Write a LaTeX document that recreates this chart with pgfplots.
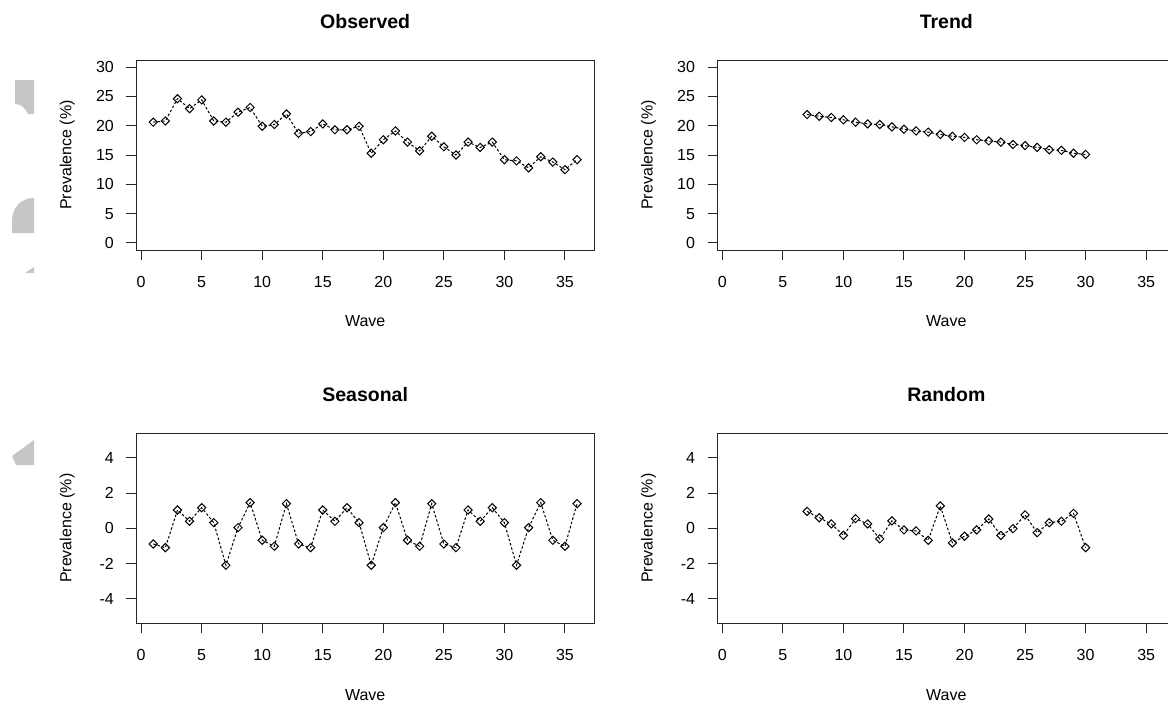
\documentclass[border=0pt]{standalone}
\usepackage{fontspec}
\setmainfont{Liberation Sans}
\usepackage{pgfplots}
\pgfplotsset{compat=1.18}

\pgfplotsset{
  rpanel/.style={
    scale only axis, width=457.7pt, height=190pt,
    xmin=-0.4, xmax=37.4,
    xtick={0,5,...,35},
    axis line style={black!85, line width=1pt},
    tick style={black!85, line width=1pt},
    tick align=outside, major tick length=10pt,
    xtick pos=lower, ytick pos=left,
    font=\fontsize{16}{19}\selectfont,
    /pgf/number format/assume math mode=true,
    xticklabel style={anchor=base, inner sep=0pt, yshift=-27pt},
    yticklabel style={anchor=east, inner sep=0pt, xshift=-12.3pt},
    xlabel={Wave}, ylabel={Prevalence (\%)},
    xlabel style={at={(axis description cs:0.5,-0.4037)}, anchor=base},
    ylabel style={at={(axis description cs:-0.1416,0.5)}, anchor=base},
    title style={at={(axis description cs:0.5,1.135)}, anchor=base,
                 font=\fontsize{19.5}{22}\selectfont\bfseries},
  },
  rline/.style={black, line width=1pt, dash pattern=on 2.5pt off 2pt,
    mark=square, mark size=2.9pt,
    mark options={solid, fill=white, rotate=45, line width=1pt}},
  toprow/.style={ymin=-1.2, ymax=31.2, ytick={0,5,...,30}},
  botrow/.style={ymin=-5.4, ymax=5.4, ytick={-4,-2,...,4}},
}

\begin{document}
\begin{tikzpicture}[x=1pt, y=1pt]
\useasboundingbox (0,0) rectangle (1168,-707);

% grey shapes at the left edge
\fill[gray!45] (15,-80) -- (34,-80) -- (34,-114) -- (28,-114)
  .. controls (24,-106) and (20,-104) .. (15,-104) -- cycle;
\fill[gray!45] (34,-233) -- (12,-233) -- (12,-222)
  .. controls (12,-206) and (22,-198) .. (34,-198) -- cycle;
\fill[gray!45] (34,-267) -- (34,-273) -- (25,-273) -- cycle;
\fill[gray!45] (34,-440) -- (12,-456) -- (16,-465) -- (34,-465) -- cycle;

\begin{axis}[rpanel, toprow, title={Observed}, at={(136.3pt,-250pt)}, anchor=south west]
\addplot[rline] coordinates {
 (1,20.6) (2,20.8) (3,24.6) (4,22.9) (5,24.4) (6,20.8) (7,20.6) (8,22.3)
 (9,23.1) (10,19.9) (11,20.2) (12,22.0) (13,18.7) (14,19.0) (15,20.3) (16,19.3)
 (17,19.3) (18,19.9) (19,15.3) (20,17.6) (21,19.1) (22,17.2) (23,15.7) (24,18.2)
 (25,16.4) (26,15.0) (27,17.2) (28,16.3) (29,17.2) (30,14.2) (31,14.0) (32,12.8)
 (33,14.7) (34,13.8) (35,12.5) (36,14.2)};
\end{axis}

\begin{axis}[rpanel, toprow, title={Trend}, at={(717.5pt,-250pt)}, anchor=south west]
\addplot[rline] coordinates {
 (7,21.9) (8,21.6) (9,21.4) (10,21.0) (11,20.6) (12,20.3) (13,20.2) (14,19.8)
 (15,19.4) (16,19.1) (17,18.9) (18,18.5) (19,18.2) (20,18.0) (21,17.6) (22,17.4)
 (23,17.2) (24,16.8) (25,16.6) (26,16.3) (27,15.9) (28,15.8) (29,15.3) (30,15.1)};
\end{axis}

\begin{axis}[rpanel, botrow, title={Seasonal}, at={(136.3pt,-623.3pt)}, anchor=south west]
\addplot[rline] coordinates {
 (1,-0.89) (2,-1.10) (3,1.04) (4,0.40) (5,1.17) (6,0.32) (7,-2.10) (8,0.04)
 (9,1.46) (10,-0.68) (11,-1.02) (12,1.40)
 (13,-0.89) (14,-1.10) (15,1.04) (16,0.40) (17,1.17) (18,0.32) (19,-2.10) (20,0.04)
 (21,1.46) (22,-0.68) (23,-1.02) (24,1.40)
 (25,-0.89) (26,-1.10) (27,1.04) (28,0.40) (29,1.17) (30,0.32) (31,-2.10) (32,0.04)
 (33,1.46) (34,-0.68) (35,-1.02) (36,1.40)};
\end{axis}

\begin{axis}[rpanel, botrow, title={Random}, at={(717.5pt,-623.3pt)}, anchor=south west]
\addplot[rline] coordinates {
 (7,0.96) (8,0.60) (9,0.25) (10,-0.40) (11,0.55) (12,0.25) (13,-0.60) (14,0.42)
 (15,-0.09) (16,-0.15) (17,-0.68) (18,1.27) (19,-0.83) (20,-0.45) (21,-0.09) (22,0.53)
 (23,-0.40) (24,-0.02) (25,0.76) (26,-0.25) (27,0.32) (28,0.40) (29,0.85) (30,-1.10)};
\end{axis}
\end{tikzpicture}
\end{document}
